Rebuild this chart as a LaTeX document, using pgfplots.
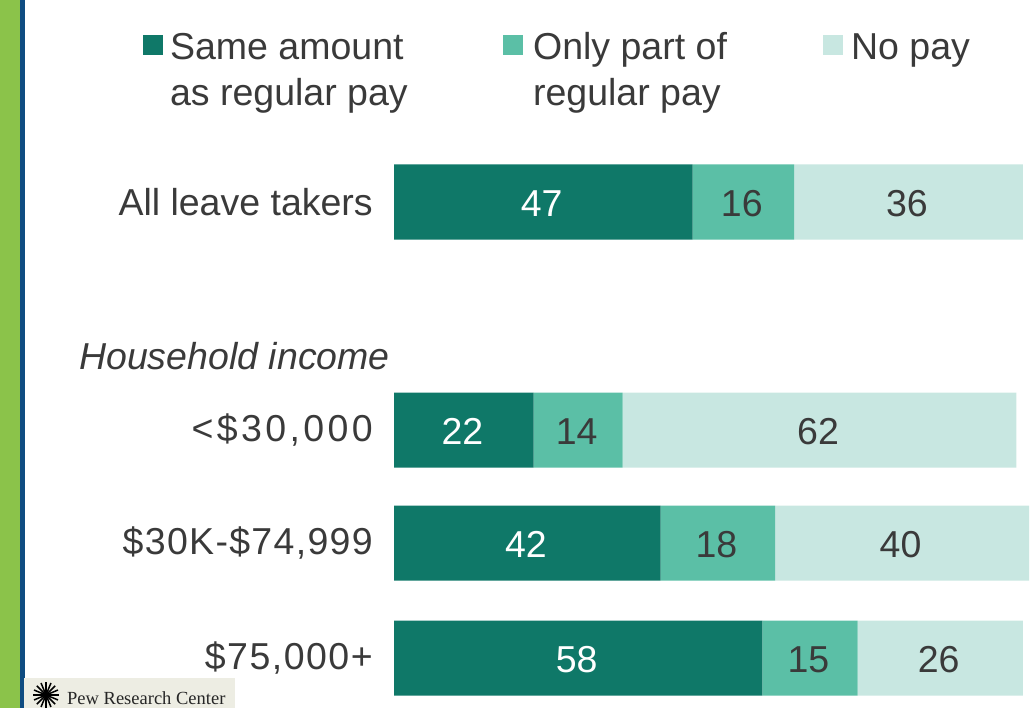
\documentclass[border=0pt]{standalone}
\usepackage{fontspec}
\setmainfont{Liberation Sans}
\newfontfamily\pewserif{Liberation Serif}
\usepackage{pgfplots}
\pgfplotsset{compat=1.18}
\definecolor{dk}{HTML}{0F7868}
\definecolor{md}{HTML}{5BBFA6}
\definecolor{lt}{HTML}{C8E7E1}
\definecolor{txt}{HTML}{3A3A3A}
\newcommand{\lab}{\fontsize{37.5bp}{46bp}\selectfont}
\newcommand{\ls}[2]{{\addfontfeatures{LetterSpace=#1}#2}}
\newcommand{\legtxt}[2]{\parbox[t][92bp][t]{#1}{\raggedright\lab\color{txt}\strut #2}}
\begin{document}
\begin{tikzpicture}[x=1bp,y=1bp]
\begin{axis}[
  at={(394bp,0bp)},anchor=south west,
  scale only axis,width=637bp,height=708bp,
  xbar stacked,bar width=75bp,
  xmin=0,xmax=100.3,ymin=0,ymax=708,y dir=reverse,
  axis line style={draw=none},
  xtick=\empty,
  ytick={202,430,543,658},
  yticklabels={\ls{0}{All leave takers},{\ls{9}{<\$30,000}},{\ls{3.5}{\$30K-\$74,999}},{\ls{4}{\$75,000+}}},
  major tick length=0pt,
  yticklabel style={font=\lab,text=txt,inner sep=0pt,xshift=-21bp},
  clip=false,
  nodes near coords,
  /pgf/number format/assume math mode=true,
  nodes near coords style={font=\lab,text=txt,yshift=-1.5bp,xshift=-1.5bp},
  legend columns=3,
  legend style={draw=none,fill=none,at={(axis cs:-39.5,27)},anchor=north west,
    inner sep=0pt,outer sep=0pt,
    nodes={inner sep=0pt,anchor=base west},
    /tikz/every odd column/.append style={column sep=7bp}},
  legend image code/.code={\fill[#1,draw=none] (0bp,-28bp) rectangle (20bp,-8bp);},
]
\addplot[fill=dk,draw=none,nodes near coords style={text=white}] coordinates {(47,202) (22,430) (42,543) (58,658)};
\addplot[fill=md,draw=none] coordinates {(16,202) (14,430) (18,543) (15,658)};
\addplot[fill=lt,draw=none] coordinates {(36,202) (62,430) (40,543) (26,658)};
\legend{\legtxt{333bp}{Same amount\\as regular pay},\legtxt{293bp}{\hspace*{3bp}Only part of\\\hspace*{3bp}regular pay},\legtxt{170bp}{\hspace*{1bp}No pay}}
\end{axis}
\begin{scope}[x=1bp,y=-1bp,shift={(0bp,708bp)}]
\fill[color={rgb,255:red,139;green,195;blue,74}] (0,0) rectangle (20,708);
\fill[color={rgb,255:red,15;green,76;blue,129}] (20,0) rectangle (25,708);
\node[anchor=base east,inner sep=0pt,text=txt,font=\lab\itshape] at (390,370) {Household income};
\fill[color={rgb,255:red,237;green,237;blue,227}] (24,678) rectangle (235,708);
\foreach \a in {0,22.5,...,337.5} \draw[line width=1.5bp,black] (46,695) -- ++(\a:13);
\node[anchor=base west,inner sep=0pt,text=black!85,font=\pewserif\fontsize{18.5bp}{20bp}\selectfont] at (67,705) {Pew Research Center};
\end{scope}
\pgfresetboundingbox
\path[use as bounding box] (0bp,0bp) rectangle (1031bp,708bp);
\end{tikzpicture}
\end{document}
